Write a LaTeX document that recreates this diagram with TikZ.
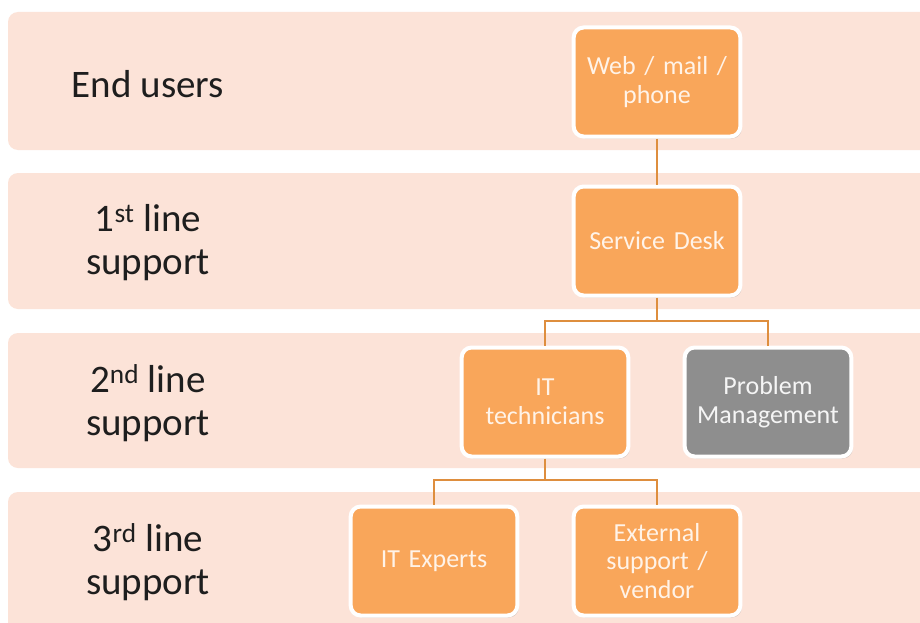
\documentclass[tikz,border=0pt]{standalone}
\usepackage{fontspec}
\setmainfont{Carlito}
\usetikzlibrary{shadows}
\definecolor{bandc}{HTML}{FCE3D8}
\definecolor{boxor}{HTML}{F9A65A}
\definecolor{boxgr}{HTML}{8E8E8E}
\definecolor{linec}{HTML}{DE8E3E}
\definecolor{labtxt}{HTML}{1E1E1E}
\definecolor{boxtxt}{HTML}{FFF3E8}
\tikzset{
  lvl/.style={text=labtxt, align=center, font=\fontsize{39}{43}\selectfont},
  orgbox/.style={draw=white, line width=4pt, rounded corners=10pt, fill=boxor,
     minimum width=166pt, minimum height=109pt, text width=160pt, align=center,
     text=boxtxt, font=\fontsize{26}{28.5}\selectfont,
     drop shadow={shadow xshift=1.5pt, shadow yshift=-2pt, opacity=0.35}},
  grbox/.style={orgbox, fill=boxgr, text=white!92!gray},
  conn/.style={draw=linec, line width=2.5pt}
}
\begin{document}
\begin{tikzpicture}[x=1pt,y=-1pt]
\useasboundingbox (0,0) rectangle (920,623);
\fill[white] (0,0) rectangle (920,623);
% bands
\foreach \t/\b in {12/150, 173/309, 333/468, 492/640}{
  \fill[bandc] (930,\t) [rounded corners=10pt]-- (8,\t) -- (8,\b) [sharp corners]-- (930,\b) -- cycle;
}
% level labels
\node[lvl] (l1) at (148,84) {End users};
\node[lvl] (l2) at (148,243) {1\textsuperscript{st} line\\support};
\node[lvl] (l3) at (148,403) {2\textsuperscript{nd} line\\support};
\node[lvl] (l4) at (148,562) {3\textsuperscript{rd} line\\support};
% bus junctions
\coordinate (b1) at (657,321);
\coordinate (b2) at (545,480);
% boxes
\node[orgbox] (web) at (657,82) {Web / mail /\\phone};
\node[orgbox] (sd) at (657,241) {Service Desk};
\node[orgbox] (itt) at (545,402) {IT\\technicians};
\node[grbox] (pm) at (768,402) {Problem\\Management};
\node[orgbox] (ite) at (434,561) {IT Experts};
\node[orgbox] (ext) at (657,561) {External\\support /\\vendor};
\draw[conn] (web.south) -- (sd.north);
\draw[conn] (sd.south) -- (b1);
\draw[conn] (itt.north) |- (b1) -| (pm.north);
\draw[conn] (itt.south) -- (b2);
\draw[conn] (ite.north) |- (b2) -| (ext.north);
\end{tikzpicture}
\end{document}
